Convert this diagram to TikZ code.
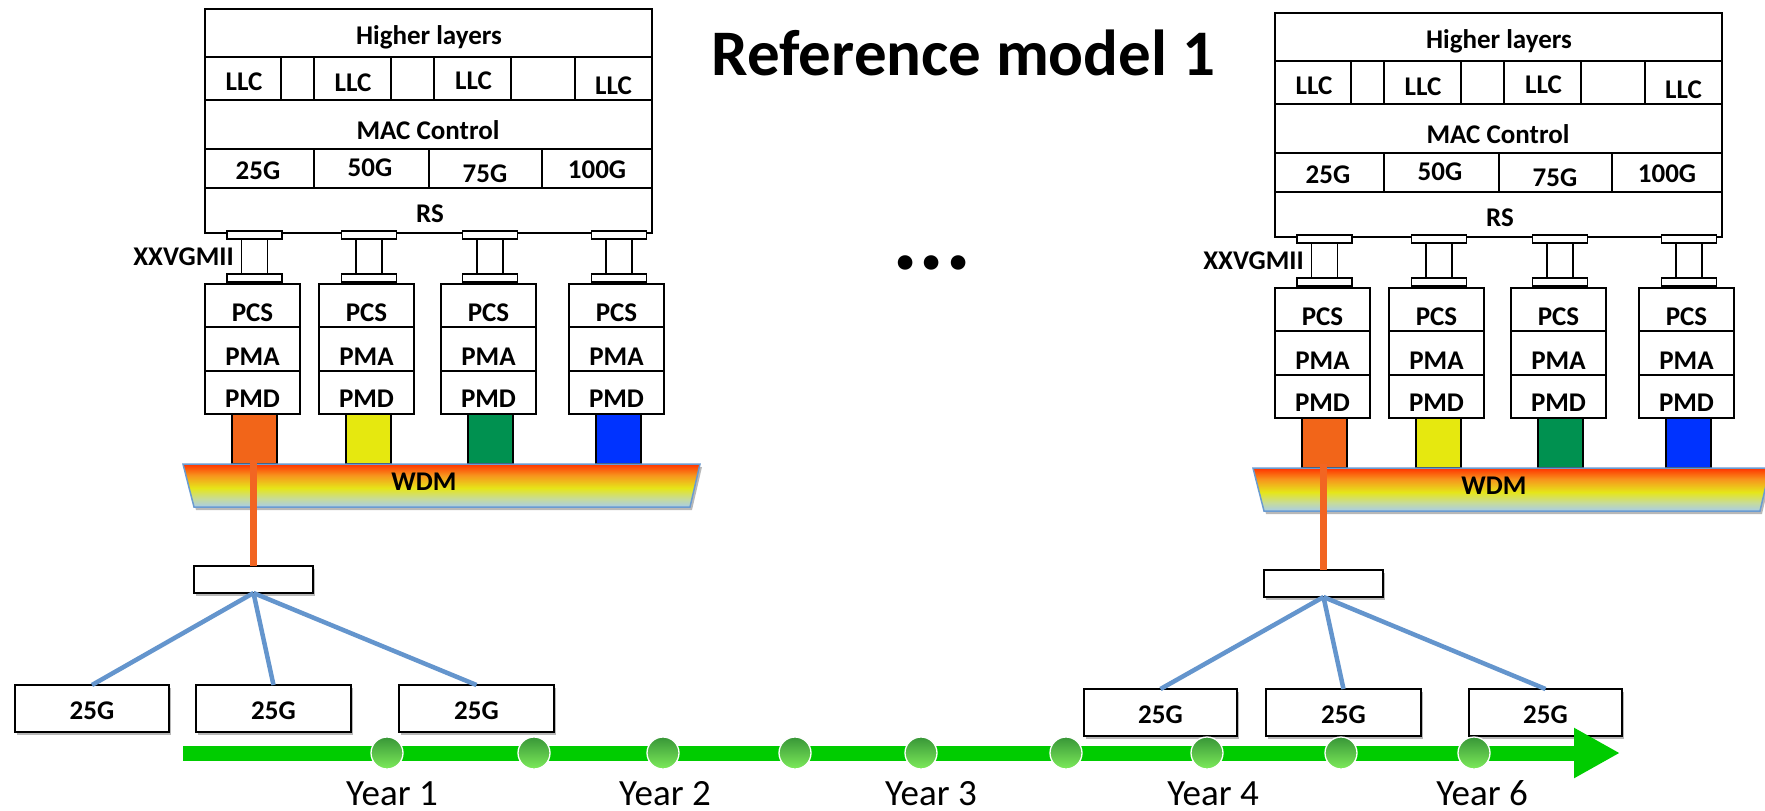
\documentclass[tikz,border=0pt]{standalone}
\usepackage{fontspec}
\setmainfont{Carlito}
\usetikzlibrary{arrows.meta,shadows}

\definecolor{barorange}{RGB}{242,101,25}
\definecolor{baryellow}{RGB}{230,232,15}
\definecolor{bargreen}{RGB}{0,145,80}
\definecolor{barblue}{RGB}{0,51,255}
\definecolor{fiber}{RGB}{242,101,34}
\definecolor{dropline}{RGB}{100,149,205}
\definecolor{wdmedge}{RGB}{106,155,209}
\definecolor{wdmred}{RGB}{255,51,0}
\definecolor{wdmorange}{RGB}{247,148,29}
\definecolor{wdmyellow}{RGB}{230,230,25}
\definecolor{wdmpale}{RGB}{200,220,150}
\definecolor{wdmblue}{RGB}{168,204,232}
\definecolor{tlgreen}{RGB}{0,204,0}
\definecolor{dotdark}{RGB}{56,150,56}
\definecolor{dotlight}{RGB}{125,235,90}

% vertical colour ramp of the WDM block (path spans 25bp..75bp)
\pgfdeclareverticalshading{wdmshade}{100bp}{color(0bp)=(wdmblue); color(25bp)=(wdmblue); color(35bp)=(wdmpale); color(47bp)=(wdmyellow); color(62bp)=(wdmorange); color(75bp)=(wdmred); color(100bp)=(wdmred)}

\tikzset{
  blk/.style={rectangle, draw=black, fill=white, line width=1.6pt, inner sep=0pt, outer sep=0pt},
  lbl/.style={font=\bfseries\fontsize{27}{27}\selectfont, inner sep=0pt, text height=17pt, text depth=0pt},
  yearlbl/.style={font=\fontsize{37}{37}\selectfont, inner sep=0pt, text height=23.4pt, text depth=0pt},
  shadowed/.style={drop shadow={shadow xshift=2pt, shadow yshift=-3pt, opacity=0.28, fill=black}},
  wdm/.style={shading=wdmshade, shade, draw=wdmedge, line width=1.5pt, shadowed},
  fiberline/.style={draw=fiber, line width=7pt},
  dropcable/.style={draw=dropline, line width=4.5pt},
  yeardot/.style={circle, minimum size=32pt, inner sep=0pt, draw=white, line width=1.3pt,
                  top color=dotdark, bottom color=dotlight},
}

% box from (x1,y1) to (x2,y2): \blk[opts]{name}{x1}{y1}{x2}{y2}
\newcommand\blk[6][]{%
  \pgfmathsetmacro\bw{(#5)-(#3)}\pgfmathsetmacro\bh{(#6)-(#4)}%
  \pgfmathsetmacro\bx{((#3)+(#5))/2}\pgfmathsetmacro\by{((#4)+(#6))/2}%
  \node[blk,#1,minimum width=\bw pt,minimum height=\bh pt] (#2) at (\bx,\by) {};}

% protocol stack, four PHY lanes, WDM and splitter; #1 = name prefix
\newcommand\phystack[1]{%
  \blk{#1-hl}{205}{9}{652}{57}
  \node[lbl] (#1-hl-t) at (429,36) {Higher layers};
  \blk{#1-llc1}{205}{57}{281}{100}
  \blk{#1-gap1}{281}{57}{314}{100}
  \blk{#1-llc2}{314}{57}{391}{100}
  \blk{#1-gap2}{391}{57}{434}{100}
  \blk{#1-llc3}{434}{57}{511}{100}
  \blk{#1-gap3}{511}{57}{575}{100}
  \blk{#1-llc4}{575}{57}{652}{100}
  \node[lbl] (#1-llc1-t) at (244,81.5) {LLC};
  \node[lbl] (#1-llc2-t) at (353,82.5) {LLC};
  \node[lbl] (#1-llc3-t) at (473.5,80.5) {LLC};
  \node[lbl] (#1-llc4-t) at (613.5,86) {LLC};
  \blk{#1-mac}{205}{100}{652}{149}
  \node[lbl] (#1-mac-t) at (428,130.5) {MAC Control};
  \blk{#1-r25}{205}{149}{314}{188}
  \blk{#1-r50}{314}{149}{429}{188}
  \blk{#1-r75}{429}{149}{542}{188}
  \blk{#1-r100}{542}{149}{652}{188}
  \node[lbl] (#1-r25-t) at (258,170.5) {25G};
  \node[lbl] (#1-r50-t) at (370,167.5) {50G};
  \node[lbl] (#1-r75-t) at (485,174) {75G};
  \node[lbl] (#1-r100-t) at (597,169.5) {100G};
  \blk{#1-rs}{205}{188}{652}{233}
  \node[lbl] (#1-rs-t) at (430,213.5) {RS};
  % XXVGMII connectors
  \foreach \cx [count=\i] in {254.5,369,490,619} {
    \blk[line width=1.3pt]{#1-post\i}{\cx-13}{239}{\cx+13}{274}
    \blk[line width=1.3pt]{#1-capt\i}{\cx-27.5}{231}{\cx+27.5}{239}
    \blk[line width=1.3pt]{#1-capb\i}{\cx-27.5}{274}{\cx+27.5}{282}
  }
  \node[lbl, anchor=east] (#1-mii) at (234,256.5) {XXVGMII};
  % PCS / PMA / PMD lanes and their coloured outputs
  \foreach \xa/\col [count=\i] in {205/barorange,319/baryellow,441/bargreen,569/barblue} {
    \blk{#1-pcs\i}{\xa}{284}{\xa+95}{327}
    \blk{#1-pma\i}{\xa}{327}{\xa+95}{371}
    \blk{#1-pmd\i}{\xa}{371}{\xa+95}{414}
    \node[lbl] (#1-pcs\i-t) at (\xa+47.5,312.5) {PCS};
    \node[lbl] (#1-pma\i-t) at (\xa+47.5,356.5) {PMA};
    \node[lbl] (#1-pmd\i-t) at (\xa+47.5,398.5) {PMD};
    \blk[fill=\col]{#1-bar\i}{\xa+27}{414}{\xa+72}{464}
  }
  \path[wdm] (183,464) -- (700,464) -- (690,507) -- (194,507) -- cycle;
  \node[lbl] (#1-wdm) at (424,481.5) {WDM};
  \coordinate (#1-fibertop) at (253.5,460);
  \blk[shadowed]{#1-split}{194}{566}{313}{593}
  \draw[fiberline] (#1-split.north) -- (#1-split.north |- #1-fibertop);
}

\begin{document}
\begin{tikzpicture}[x=1pt,y=-1pt]
  \clip (0,0) rectangle (1765,811);
  \fill[white] (0,0) rectangle (1765,811);

  \node[font=\bfseries\fontsize{65}{65}\selectfont, inner sep=0pt, text height=41pt, text depth=0pt]
    (title) at (963.5,54.5) {Reference model 1};
  \node[font=\bfseries\fontsize{98}{98}\selectfont, inner sep=0pt, text height=13pt, text depth=0pt]
    (more) at (932,263) {...};

  \phystack{L}
  \begin{scope}[shift={(1070,4)}]
    \phystack{R}
  \end{scope}

  % 25G end points
  \blk[shadowed]{L-out1}{15}{685}{169}{732}
  \blk[shadowed]{L-out2}{196}{685}{351}{732}
  \blk[shadowed]{L-out3}{399}{685}{554}{732}
  \blk[shadowed]{R-out1}{1084}{689}{1237}{736}
  \blk[shadowed]{R-out2}{1266}{689}{1421}{736}
  \blk[shadowed]{R-out3}{1469}{689}{1622}{736}
  \foreach \s in {L,R} {
    \foreach \b in {1,2,3} {
      \draw[dropcable] (\s-split.south) -- (\s-out\b.north);
      \node[lbl] (\s-out\b-t) at ([yshift=-2pt]\s-out\b.center) {25G};
    }
  }

  % timeline
  \coordinate (tl0) at (183,753);
  \coordinate (tl1) at (1620,753);
  \draw[tlgreen, line width=15pt, -{Triangle[length=46pt,width=47pt]}] (tl0) -- (tl1);
  \foreach \x [count=\i] in {387,534,663,795,921,1066,1207,1341,1474}
    \node[yeardot] (dot\i) at (\x,753) {};
  \node[yearlbl] (y1) at (392,793.5) {Year 1};
  \node[yearlbl] (y2) at (665,793.5) {Year 2};
  \node[yearlbl] (y3) at (931,793.5) {Year 3};
  \node[yearlbl] (y4) at (1213,793.5) {Year 4};
  \node[yearlbl] (y6) at (1482,793.5) {Year 6};
\end{tikzpicture}
\end{document}
